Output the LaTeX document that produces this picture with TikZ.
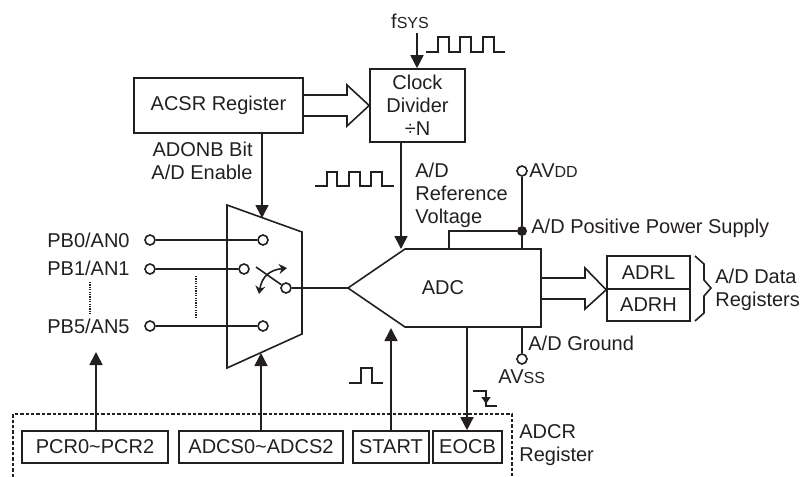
\documentclass[tikz,border=0pt]{standalone}
\usepackage{fontspec}
\setmainfont{Liberation Sans}
\usetikzlibrary{arrows.meta}
\definecolor{ink}{HTML}{231F20}
\newcommand{\subsize}{\fontsize{8}{8}\selectfont}
\tikzset{
    base/.style={line width=0.8pt, draw=ink, text=ink},
    label/.style={text=ink, inner sep=0pt, align=left, font=\fontsize{10}{11.5}\selectfont},
    regbox/.style={base, rectangle, inner sep=0pt, align=center, font=\fontsize{10}{11.5}\selectfont},
    pin/.style={base, circle, fill=white, inner sep=0pt, minimum size=5pt},
    sig/.style={base, -{Triangle[width=6.5pt,length=6.5pt]}},
    wave/.style={draw=ink, line width=0.65pt},
    dotline/.style={draw=ink, line width=0.6pt, dash pattern=on 0.6pt off 0.6pt}
}
\begin{document}
\begin{tikzpicture}[x=0.5pt, y=-0.5pt]
        \useasboundingbox (0,0) rectangle (800,477);

        % register boxes
        \node[regbox, minimum width=84.5pt, minimum height=27.5pt] (acsr) at (218.5,105.5) {ACSR Register};
        \node[regbox, minimum width=47.5pt, minimum height=36.5pt] (clock) at (417.5,105.5) {Clock\\Divider\\÷N};
        \node[regbox, minimum width=41.5pt, minimum height=16.5pt] (adrl) at (648.5,272.5) {ADRL};
        \node[regbox, minimum width=41.5pt, minimum height=16pt] (adrh) at (648.5,305) {ADRH};
        \node[regbox, minimum width=73pt, minimum height=16pt] (pcr) at (95,447) {PCR0\textasciitilde PCR2};
        \node[regbox, minimum width=82pt, minimum height=16pt] (adcs) at (261,447) {ADCS0\textasciitilde ADCS2};
        \node[regbox, minimum width=38pt, minimum height=16pt] (start) at (391,447) {START};
        \node[regbox, minimum width=34.5pt, minimum height=16pt] (eocb) at (467.5,447) {EOCB};

        % multiplexer
        \coordinate (muxtl) at (227,205);
        \coordinate (muxtr) at (302,232);
        \coordinate (muxbr) at (302,334);
        \coordinate (muxbl) at (227,368);
        \coordinate (muxin) at (262,218);
        \coordinate (muxsel) at (261,353);
        \draw[base] (muxtl) -- (muxtr) -- (muxbr) -- (muxbl) -- cycle;

        % converter
        \coordinate (adctip) at (348,288);
        \coordinate (adctl) at (405,249);
        \coordinate (adctr) at (541,249);
        \coordinate (adcbr) at (541,327);
        \coordinate (adcbl) at (405,327);
        \draw[base] (adctip) -- (adctl) -- (adctr) -- (adcbr) -- (adcbl) -- cycle;
        \node[label] (adc) at (443,288) {ADC};

        % inputs
        \node[pin] (pb0) at (150,240) {};
        \node[pin] (pb1) at (150,269) {};
        \node[pin] (pb5) at (150,326) {};
        \node[pin] (c0) at (263,240) {};
        \node[pin] (c1) at (244,269) {};
        \node[pin] (c5) at (263,326) {};
        \node[pin] (cout) at (286,288) {};
        \draw[base] (pb0) -- (c0);
        \draw[base] (pb1) -- (c1);
        \draw[base] (pb5) -- (c5);
        \draw[base] (cout) -- (adctip);
        \node[label, anchor=east] (pb0t) at (130,240) {PB0/AN0};
        \node[label, anchor=east] (pb1t) at (130,268) {PB1/AN1};
        \node[label, anchor=east] (pb5t) at (130,326) {PB5/AN5};
        \draw[dotline] (90,282) -- (90,315);
        \draw[dotline] (196,276) -- (196,319);

        % switch
        \coordinate (blade) at (256,267);
        \draw[base] (blade) -- (cout);
        \draw[base, {Stealth[width=5pt,length=4pt]}-{Stealth[width=5pt,length=4pt]}] (259,294) .. controls (262,276) and (270,270) .. (287,268);

        % supplies
        \node[pin] (avdd) at (522,171) {};
        \node[circle, fill=ink, inner sep=0pt, minimum size=5pt] (dot) at (522,231) {};
        \node[pin] (avss) at (522,359) {};
        \coordinate (vddin) at (522,249);
        \coordinate (vddloop) at (449,249);
        \coordinate (vssout) at (522,327);
        \draw[base] (avdd) -- (dot) -- (vddin);
        \draw[base] (dot) -- (vddloop |- dot) -- (vddloop);
        \draw[base] (vssout) -- (avss);
        \node[label, anchor=west] (avddt) at (529,171) {AV{\subsize DD}};
        \node[label, anchor=west] (post) at (531,228) {A/D Positive Power Supply};
        \node[label, anchor=west] (gndt) at (528,343) {A/D Ground};
        \node[label, anchor=west] (avsst) at (498,377) {AV{\subsize SS}};

        % clock path
        \node[label] (fsys) at (410,21) {f{\subsize SYS}};
        \coordinate (fsysout) at (417,33);
        \coordinate (refin) at (401,249);
        \draw[sig] (fsysout) -- (clock.north -| fsysout);
        \draw[sig] (clock.south -| refin) -- (refin);
        \node[label, anchor=west] (reft) at (415,195) {A/D\\Reference\\Voltage};
        \draw[wave] (426,52) -- (438,52) -- (438,37) -- (449,37) -- (449,52) -- (460,52) -- (460,37) -- (471,37) -- (471,52) -- (483,52) -- (483,37) -- (494,37) -- (494,52) -- (505,52);
        \draw[wave] (315,186) -- (327,186) -- (327,172) -- (337,172) -- (337,186) -- (349,186) -- (349,172) -- (360,172) -- (360,186) -- (371,186) -- (371,172) -- (382,172) -- (382,186) -- (394,186);

        % control
        \draw[sig] (acsr.south -| muxin) -- (muxin);
        \node[label, align=right] (adonb) at (202,160.5) {ADONB Bit\\A/D Enable};
        \draw[base] (acsr.east |- 0,95) -- (347,95) -- (347,85) -- (clock.west) -- (347,126) -- (347,116) -- (acsr.east |- 0,116);
        \draw[base] (adcbr |- 0,278) -- (585,278) -- (585,268) -- (adrl.south west) -- (585,309) -- (585,299) -- (adcbr |- 0,299);
        \draw[base] (695,256) -- (704,264) -- (704,280) -- (711,288) -- (704,296) -- (704,313) -- (695,321);
        \node[label, anchor=west] (datat) at (715,289.5) {A/D Data\\Registers};

        % bottom arrows
        \coordinate (startin) at (391,328);
        \coordinate (eocbout) at (467,327);
        \coordinate (pcrout) at (96,352);
        \draw[sig] (pcr.north -| pcrout) -- (pcrout);
        \draw[sig] (adcs.north -| muxsel) -- (muxsel);
        \draw[sig] (start.north) -- (startin);
        \draw[sig] (eocbout) -- (eocb.north -| eocbout);
        \draw[wave] (349,383) -- (361,383) -- (361,368) -- (372,368) -- (372,383) -- (383,383);
        \draw[wave] (473,391) -- (486,391) -- (486,406) -- (497,406);
        \draw[wave, -{Triangle[width=4.5pt,length=3.5pt]}] (486,391) -- (486,404);

        % register frame
        \coordinate (framel) at (13,477);
        \coordinate (framer) at (512,477);
        \draw[ink, line width=0.6pt, dash pattern=on 1.7pt off 1pt] (framel) -- (13,414) -- (512,414) -- (framer);
        \node[label, anchor=west] (adcr) at (519,445.5) {ADCR\\Register};
    \end{tikzpicture}
\end{document}
